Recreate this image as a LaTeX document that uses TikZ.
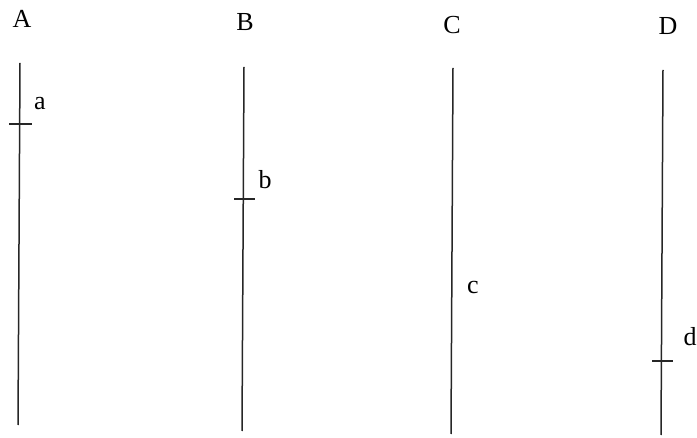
\documentclass[tikz,border=0pt]{standalone}
\usepackage{fontspec}
\setmainfont{Liberation Serif}
\begin{document}
\begin{tikzpicture}[x=0.5pt, y=-0.5pt,
  every node/.style={font=\fontsize{13}{15}\selectfont, inner sep=0pt},
  axisline/.style={line width=0.75pt, black!85},
  tickline/.style={line width=0.75pt, black!85}]
  \useasboundingbox (0,0) rectangle (697,438);

  % Line A
  \node (labA) at (22,19) {A};
  \coordinate (topA) at (20,63);
  \coordinate (botA) at (18,425);
  \draw[axisline] (topA) -- (botA);
  \coordinate (tickAl) at (9,124);
  \coordinate (tickAr) at (32,124);
  \draw[tickline] (tickAl) -- (tickAr);
  \node (laba) at (40,104) {a};

  % Line B
  \node (labB) at (245,22) {B};
  \coordinate (topB) at (244,67);
  \coordinate (botB) at (242,431);
  \draw[axisline] (topB) -- (botB);
  \coordinate (tickBl) at (234,199);
  \coordinate (tickBr) at (255,199);
  \draw[tickline] (tickBl) -- (tickBr);
  \node (labb) at (265,180) {b};

  % Line C
  \node (labC) at (452,25) {C};
  \coordinate (topC) at (453,68);
  \coordinate (botC) at (451,434);
  \draw[axisline] (topC) -- (botC);
  \node (labc) at (473,288) {c};

  % Line D
  \node (labD) at (668,26) {D};
  \coordinate (topD) at (663,70);
  \coordinate (botD) at (661,435);
  \draw[axisline] (topD) -- (botD);
  \coordinate (tickDl) at (652,361);
  \coordinate (tickDr) at (673,361);
  \draw[tickline] (tickDl) -- (tickDr);
  \node (labd) at (690,337) {d};
\end{tikzpicture}
\end{document}
